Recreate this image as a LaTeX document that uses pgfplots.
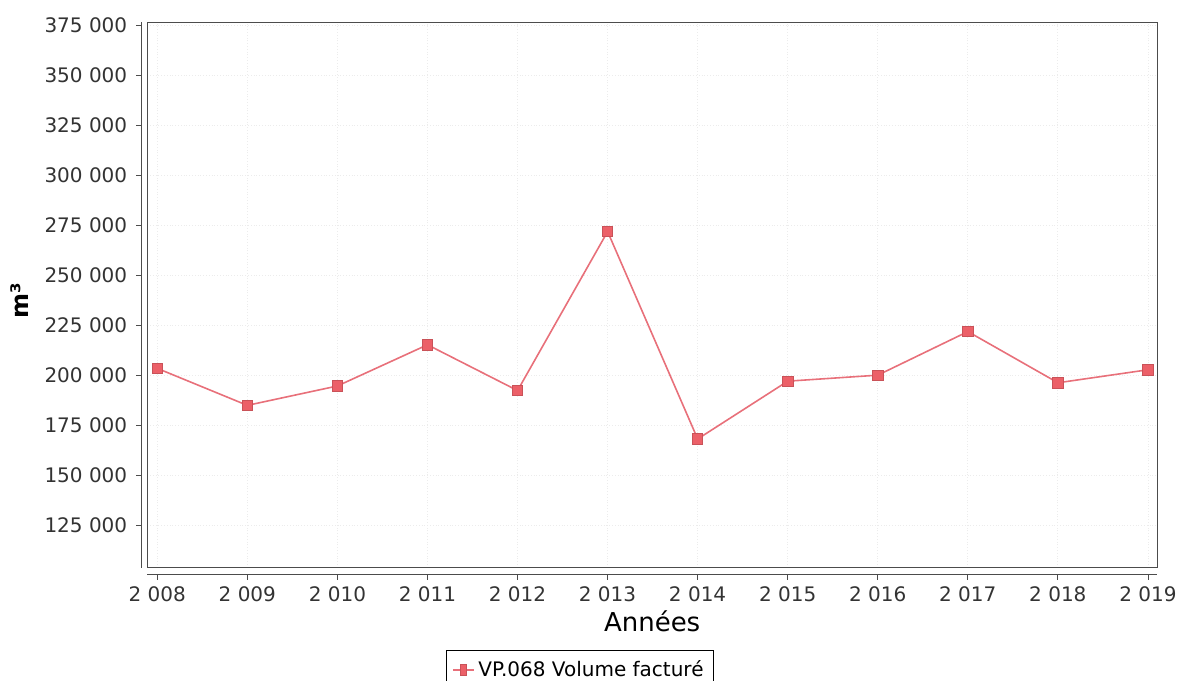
\documentclass[border=0pt]{standalone}
\usepackage{pgfplots}
\pgfplotsset{compat=1.18}
\usepackage{fontspec}
\setmainfont{DejaVu Sans}
\usetikzlibrary{calc}

\definecolor{serie}{RGB}{232,112,122}
\definecolor{mk}{RGB}{236,96,104}

\begin{document}
\begin{tikzpicture}
\begin{axis}[
    scale only axis,
    width=504.9pt,
    height=272.85pt,
    xmin=2007.889, xmax=2019.1,
    ymin=103650, ymax=376500,
    xtick={2008,2009,...,2019},
    ytick={125000,150000,...,375000},
    scaled y ticks=false,
    /pgf/number format/fixed,
    /pgf/number format/assume math mode=true,
    /pgf/number format/1000 sep={\ },
    tick label style={font=\fontsize{10}{12}\selectfont, color=black!80},
    tick align=outside,
    major tick length=2.5pt,
    tick style={black!70, thin},
    y tick style={xshift=-3pt},
    x tick style={yshift=-3.5pt},
    yticklabel style={xshift=-4pt},
    xticklabel style={yshift=-3.7pt},
    xtick pos=bottom, ytick pos=left,
    axis line style={black!70, thin},
    grid=major,
    grid style={gray!15, densely dotted},
    xlabel={Années},
    ylabel={\textbf{m³}},
    every axis x label/.style={at={(axis description cs:0.5,-0.099)}, anchor=center, font=\fontsize{13}{15}\selectfont},
    every axis y label/.style={at={(axis description cs:-0.1265,0.49)}, anchor=center, rotate=90, font=\fontsize{12}{14}\selectfont},
    legend style={at={(axis description cs:0.4285,-0.151)}, anchor=north, draw=black, thin,
        font=\fontsize{10}{12}\selectfont, inner sep=3pt},
    legend image post style={xscale=0.6},
]
\addplot[serie, line width=0.8pt, mark=square*, mark size=2.6pt,
    mark options={fill=mk, draw=mk!85!black, line width=0.4pt}]
coordinates {
 (2008,203300)
 (2009,184800)
 (2010,194500)
 (2011,215100)
 (2012,192200)
 (2013,271700)
 (2014,168000)
 (2015,196900)
 (2016,199900)
 (2017,221700)
 (2018,196100)
 (2019,202600)
};
\addlegendentry{VP.068 Volume facturé}
\end{axis}
% separate axis lines, offset from the frame
\draw[black!70, thin] ($(current axis.south west)+(-3pt,0)$) -- ($(current axis.north west)+(-3pt,0)$);
\draw[black!70, thin] ($(current axis.south west)+(0,-3.5pt)$) -- ($(current axis.south east)+(0,-3.5pt)$);
\pgfresetboundingbox
\useasboundingbox ($(current axis.south west)+(-73.65pt,-56.65pt)$) rectangle ($(current axis.north east)+(12.5pt,11pt)$);
\end{tikzpicture}
\end{document}
